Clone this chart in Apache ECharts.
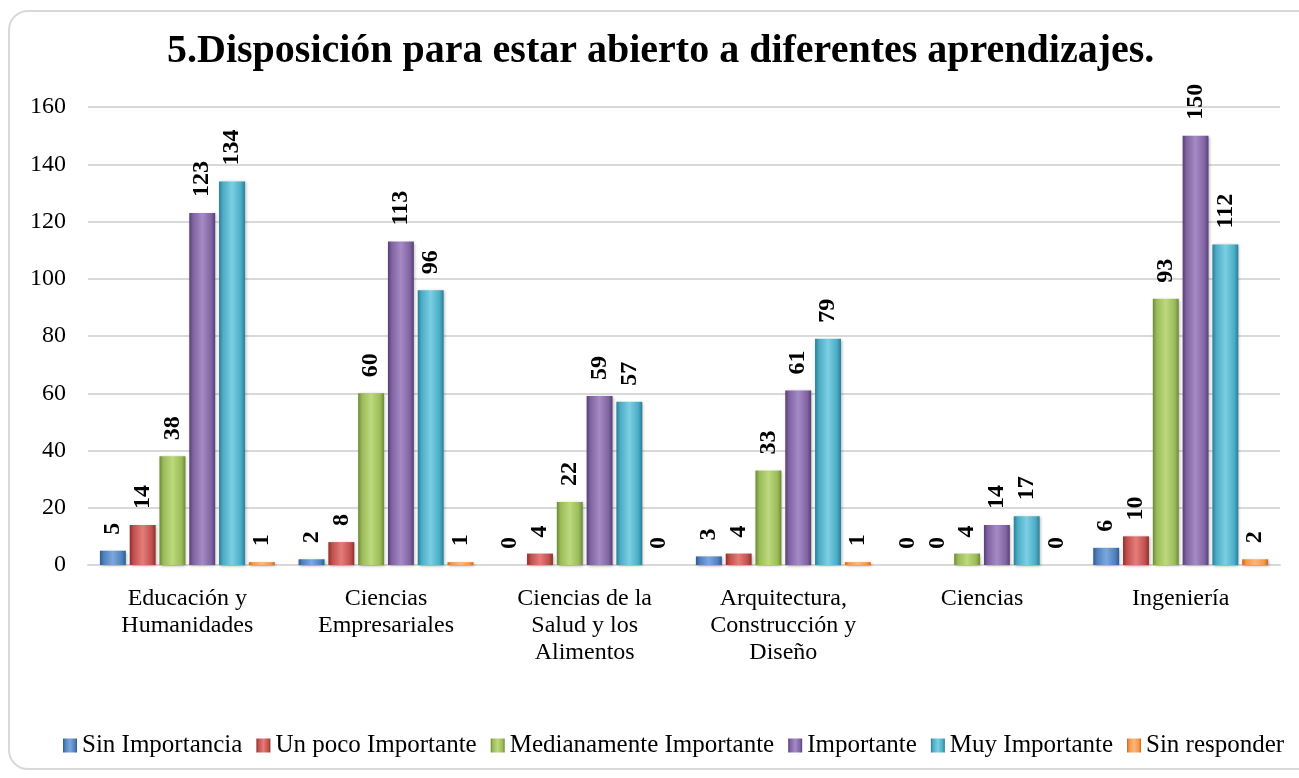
<!DOCTYPE html>
<html>
<head>
<meta charset="utf-8">
<script src="https://cdn.jsdelivr.net/npm/echarts@6/dist/echarts.min.js"></script>
<style>
  html, body { margin: 0; padding: 0; background: #fff; overflow: hidden; }
  .frame {
    position: absolute;
    left: 8px;
    top: 10px;
    width: 1310px;
    height: 756px;
    border: 2px solid #d9d9d9;
    border-radius: 20px;
  }
  #chart { position: absolute; left: 0; top: 0; width: 1299px; height: 778px; }
</style>
</head>
<body>
<div class="frame"></div>
<div id="chart"></div>
<script>
const categories = [
  'Educación y\nHumanidades',
  'Ciencias\nEmpresariales',
  'Ciencias de la\nSalud y los\nAlimentos',
  'Arquitectura,\nConstrucción y\nDiseño',
  'Ciencias',
  'Ingeniería'
]
const sinImportancia = [5, 2, 0, 3, 0, 6]
const unPocoImportante = [14, 8, 4, 4, 0, 10]
const medianamenteImportante = [38, 60, 22, 33, 4, 93]
const importante = [123, 113, 59, 61, 14, 150]
const muyImportante = [134, 96, 57, 79, 17, 112]
const sinResponder = [1, 1, 0, 1, 0, 2]

const fontFamily = 'Liberation Serif'

// relleno tipo bisel: bordes oscuros, centro claro
function bevel(light, base, dark) {
  return new echarts.graphic.LinearGradient(0, 0, 1, 0, [
    { offset: 0, color: dark },
    { offset: 0.15, color: base },
    { offset: 0.5, color: light },
    { offset: 0.85, color: base },
    { offset: 1, color: dark }
  ])
}

function makeSeries(name, data, light, base, dark) {
  return {
    name: name,
    type: 'bar',
    data: data,
    barGap: '15%',
    barCategoryGap: '12%',
    itemStyle: {
      color: bevel(light, base, dark),
      shadowColor: 'rgba(0,0,0,0.3)',
      shadowBlur: 3,
      shadowOffsetX: 1,
      shadowOffsetY: 1
    },
    label: {
      show: true,
      position: 'top',
      rotate: 90,
      align: 'left',
      verticalAlign: 'middle',
      distance: 16,
      color: '#000',
      fontFamily: fontFamily,
      fontWeight: 'bold',
      fontSize: 24
    }
  }
}

const chart = echarts.init(document.getElementById('chart'))
chart.setOption({
  animation: false,
  title: {
    text: '5.Disposición para estar abierto a diferentes aprendizajes.',
    left: 162,
    top: 27,
    textStyle: {
      fontFamily: fontFamily,
      fontWeight: 'bold',
      fontSize: 40,
      color: '#000'
    }
  },
  legend: {
    left: 58,
    top: 728,
    width: 1700,
    itemWidth: 14,
    itemHeight: 14,
    itemGap: 14,
    icon: 'rect',
    textStyle: {
      fontFamily: fontFamily,
      fontSize: 25,
      color: '#000'
    }
  },
  grid: {
    left: 88,
    right: 19,
    top: 107,
    bottom: 213
  },
  xAxis: {
    type: 'category',
    data: categories,
    axisLine: { lineStyle: { color: '#d9d9d9', width: 2 } },
    axisTick: { show: false },
    axisLabel: {
      color: '#000',
      fontFamily: fontFamily,
      fontSize: 24,
      lineHeight: 27,
      margin: 20,
      interval: 0
    }
  },
  yAxis: {
    type: 'value',
    min: 0,
    max: 160,
    interval: 20,
    axisLine: { show: false },
    axisTick: { show: false },
    splitLine: { lineStyle: { color: '#d9d9d9', width: 2 } },
    axisLabel: {
      color: '#000',
      fontFamily: fontFamily,
      fontSize: 24,
      margin: 22
    }
  },
  series: [
    makeSeries('Sin Importancia', sinImportancia, '#7ba7de', '#4f81bd', '#2f5a8f'),
    makeSeries('Un poco Importante', unPocoImportante, '#e57c79', '#c0504d', '#8e2f2c'),
    makeSeries('Medianamente Importante', medianamenteImportante, '#bcd97e', '#9bbb59', '#6d8a35'),
    makeSeries('Importante', importante, '#a58ac6', '#8064a2', '#563f75'),
    makeSeries('Muy Importante', muyImportante, '#7bcfe3', '#4bacc6', '#2a7d95'),
    makeSeries('Sin responder', sinResponder, '#fbb67c', '#f79646', '#c26a21')
  ]
})
</script>
</body>
</html>
